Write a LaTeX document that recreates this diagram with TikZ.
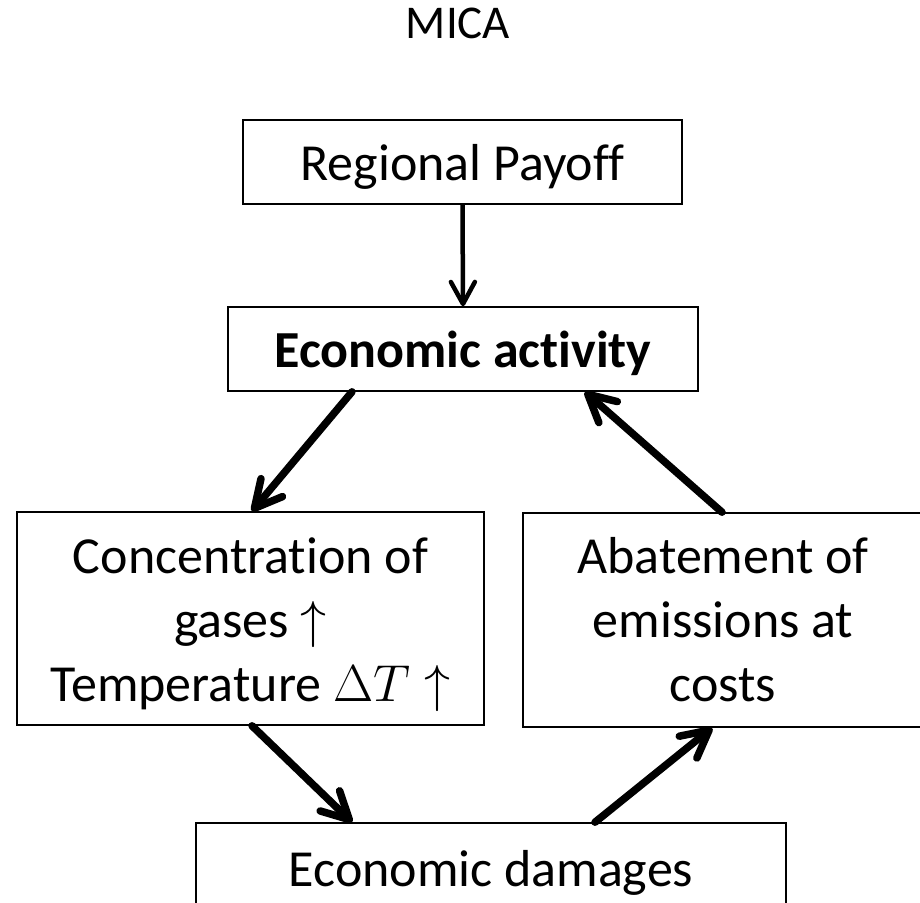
\documentclass[tikz,border=0pt]{standalone}
\usepackage{fix-cm}
\usepackage{fontspec}
\setmainfont{Carlito}[RawFeature={-liga;-clig;-calt;-dlig;-rlig}]
\usetikzlibrary{arrows.meta}
% keep "t" and "i" apart
\newcommand{\nolig}{\kern0pt\relax}
\begin{document}
\begin{tikzpicture}[x=1pt,y=-1pt,
  box/.style={draw, line width=1.6pt, inner sep=0pt, align=center,
    font=\fontsize{52}{64}\selectfont},
  oneline/.style={text height=46pt, text depth=10pt},
  flow/.style={line width=7.5pt, line cap=round,
    -{Straight Barb[length=27pt,width=28pt,line cap=round,line join=round]}},
  thinflow/.style={line width=4.5pt,
    -{Straight Barb[length=22pt,width=24pt,line cap=round,line join=round]}}]
\useasboundingbox (0,0) rectangle (920,902);
\clip (0,0) rectangle (920,902);

% title
\node[font=\fontsize{47}{56}\selectfont, anchor=base] (title) at (458,38) {MICA};

% boxes
\node[box, oneline, minimum width=439pt, minimum height=84pt] (pay) at (462.5,162) {Regional Payoff};
\node[box, oneline, minimum width=470pt, minimum height=84pt,
  font=\fontsize{52}{64}\selectfont\bfseries] (eco) at (463,349) {Economic act\nolig ivity};
\node[box, minimum width=467pt, minimum height=213pt] (conc) at (250.5,618.5)
  {\rule{0pt}{57pt}Concentrat\nolig ion of\\gases $\uparrow$\\Temperature $\Delta T\uparrow$\rule[-20pt]{0pt}{20pt}};
\node[box, minimum width=400pt, minimum height=214pt] (abate) at (723,620)
  {\rule{0pt}{54pt}Abatement of\\emissions at\\costs\rule[-20pt]{0pt}{20pt}};
\node[box, text height=50pt, text depth=10pt, minimum width=590pt, minimum height=86pt] (dam) at (491,866) {Economic damages};

% connectors
\draw[thinflow] (pay.south) -- (eco.north);
\draw[flow] ([xshift=-111pt]eco.south) -- ([xshift=1.5pt]conc.north);
\draw[flow] ([xshift=-1pt]abate.north) -- ([xshift=122pt]eco.south);
\draw[flow] ([xshift=1.5pt]conc.south) -- ([xshift=-139pt]dam.north);
\draw[flow] ([xshift=104pt]dam.north) -- ([xshift=-11pt]abate.south);
\end{tikzpicture}
\end{document}
